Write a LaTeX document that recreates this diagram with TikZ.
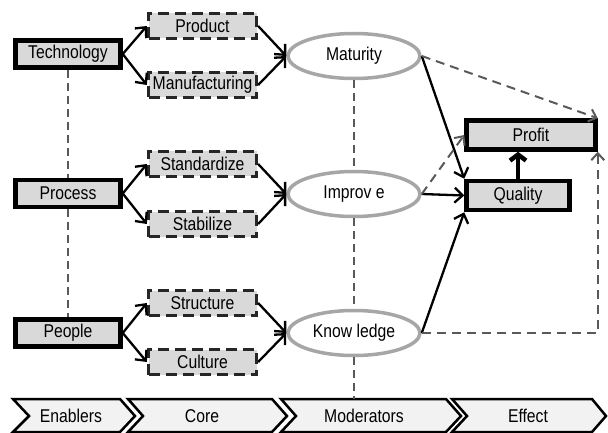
\documentclass[tikz,border=0pt]{standalone}
\usepackage{fontspec}
\setmainfont[FakeStretch=0.85]{Liberation Sans}
\usetikzlibrary{arrows.meta,shapes.geometric,calc}
\definecolor{boxfill}{HTML}{D9D9D9}
\definecolor{chevfill}{HTML}{F2F2F2}
\definecolor{ellgray}{HTML}{A6A6A6}
\definecolor{dashgray}{HTML}{595959}
\definecolor{darkdash}{HTML}{262626}
\begin{document}
\begin{tikzpicture}[x=1pt,y=-1pt,
  font=\fontsize{18.5}{20}\selectfont,
  enabler/.style={draw=black,line width=4.5pt,fill=boxfill,minimum width=105pt,minimum height=27pt,inner sep=0pt},
  corebox/.style={draw=darkdash,line width=3.3pt,dash pattern=on 11pt off 6pt,fill=boxfill,minimum width=108pt,minimum height=25pt,inner sep=0pt},
  moder/.style={ellipse,draw=ellgray,line width=3.5pt,fill=white,minimum width=132pt,minimum height=45pt,inner sep=0pt},
  effectbox/.style={draw=black,line width=4.5pt,fill=boxfill,minimum height=29pt,inner sep=0pt},
  flow/.style={draw=black,line width=2.3pt,-{Straight Barb[length=8pt,width=15pt]}},
  bigflow/.style={draw=black,line width=4.5pt,-{Straight Barb[length=6pt,width=16pt]}},
  gflow/.style={draw=dashgray,line width=2pt,dash pattern=on 9pt off 6pt,-{Straight Barb[length=7pt,width=13pt]}},
  link/.style={draw=dashgray,line width=2pt,dash pattern=on 8pt off 5pt},
  chev/.style={draw=black,line width=2.5pt,fill=chevfill,line join=miter},
  chevtext/.style={inner sep=0pt},
]
\useasboundingbox (0,0) rectangle (608,433);

% chevrons
\draw[chev] (13,399) -- (120,399) -- (135,416) -- (120,432) -- (13,432) -- (29,416) -- cycle;
\draw[chev] (128,399) -- (272,399) -- (287,416) -- (272,432) -- (128,432) -- (143,416) -- cycle;
\draw[chev] (281,399) -- (446,399) -- (461,416) -- (446,432) -- (281,432) -- (296,416) -- cycle;
\draw[chev] (452,399) -- (592,399) -- (606,416) -- (592,432) -- (452,432) -- (467,416) -- cycle;
\node[chevtext] (lenab) at (71,416) {Enablers};
\node[chevtext] (lcore) at (202,416) {Core};
\node[chevtext] (lmod) at (364,416) {Moderators};
\node[chevtext] (leff) at (528,416) {Effect};
\coordinate (modtop) at (354,399);

% enablers
\node[enabler] (tech) at (68,54) {Technology};
\node[enabler] (proc) at (68,193.5) {Process};
\node[enabler] (people) at (68,333) {People};

% core
\node[corebox] (product) at (202.5,26) {Product};
\node[corebox] (manuf) at (202.5,85) {Manufacturing};
\node[corebox] (stand) at (202.5,164) {Standardize};
\node[corebox] (stab) at (202.5,224) {Stabilize};
\node[corebox] (struct) at (202.5,303) {Structure};
\node[corebox] (cult) at (202.5,362) {Culture};

% moderators
\node[moder] (mat) at (354,56) {Maturity};
\node[moder] (imp) at (354,194) {Improv e};
\node[moder] (know) at (354,333) {Know ledge};

% effects
\node[effectbox,minimum width=129pt] (profit) at (531,135) {Profit};
\node[effectbox,minimum width=103pt] (quality) at (518,195.5) {Quality};

% vertical dashed links
\draw[link] (tech.south) -- (proc.north);
\draw[link] (proc.south) -- (people.north);
\draw[link] (mat.south) -- (imp.north);
\draw[link] (imp.south) -- (know.north);
\draw[link] (know.south) -- (modtop);

% enabler -> core
\draw[flow] (tech.east) -- (product.west);
\draw[flow] (tech.east) -- (manuf.west);
\draw[flow] (proc.east) -- (stand.west);
\draw[flow] (proc.east) -- (stab.west);
\draw[flow] (people.east) -- (struct.west);
\draw[flow] (people.east) -- (cult.west);

% core -> moderators
\draw[flow] (product.east) -- (mat.west);
\draw[flow] (manuf.east) -- (mat.west);
\draw[flow] (stand.east) -- (imp.west);
\draw[flow] (stab.east) -- (imp.west);
\draw[flow] (struct.east) -- (know.west);
\draw[flow] (cult.east) -- (know.west);

% moderators -> effects
\draw[flow] (mat.east) -- (quality.north west);
\draw[flow] (imp.east) -- (quality.west);
\draw[flow] (know.east) -- (quality.south west);
\draw[gflow] (mat.east) -- (profit.north east);
\draw[gflow] (imp.east) -- (profit.west);
\draw[gflow] (know.east) -| (profit.south east);
\draw[bigflow] (quality.north) -- (quality.north |- profit.south);
\end{tikzpicture}
\end{document}
